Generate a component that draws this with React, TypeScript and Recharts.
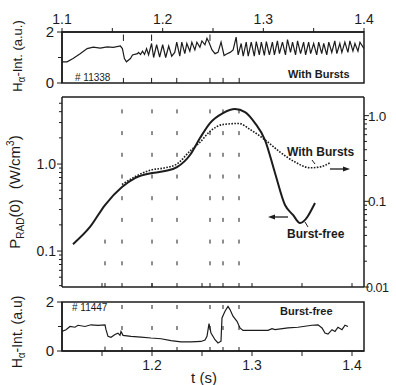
import React from "react";
import { LineChart, Line, XAxis, YAxis, ReferenceLine, ReferenceArea } from "recharts";

const INK = "#1c1c1c";
const FONT = "'Liberation Sans', Arial, sans-serif";

// top panel: H-alpha, shot 11338 (with bursts), upper time scale
const topTimes = [
  1.1, 1.105, 1.111, 1.118, 1.125, 1.131, 1.138, 1.145, 1.151, 1.158, 1.16, 1.162, 1.164, 1.168, 1.17,
  1.175, 1.176, 1.178, 1.18, 1.182, 1.184, 1.186, 1.189, 1.191, 1.194, 1.197, 1.2, 1.203, 1.206, 1.209,
  1.212, 1.214, 1.217, 1.219, 1.222, 1.224, 1.227, 1.229, 1.232, 1.234, 1.237, 1.239, 1.242, 1.244, 1.246,
  1.249, 1.252, 1.255, 1.258, 1.261, 1.264, 1.267, 1.27, 1.273, 1.275, 1.278, 1.28, 1.283, 1.285, 1.288,
  1.291, 1.293, 1.296, 1.298, 1.301, 1.303, 1.306, 1.309, 1.311, 1.314, 1.316, 1.319, 1.322, 1.324, 1.327,
  1.329, 1.332, 1.334, 1.337, 1.34, 1.342, 1.345, 1.347, 1.35, 1.353, 1.355, 1.358, 1.36, 1.363, 1.365,
  1.368, 1.371, 1.373, 1.376, 1.378, 1.381, 1.384, 1.386, 1.389, 1.391, 1.394, 1.396, 1.4,
];
const topHa = [
  0.83, 0.83, 0.96, 1.15, 1.35, 1.41, 1.37, 1.42, 1.4, 1.45, 1.35, 0.96, 0.83, 0.96, 1.1,
  1.15, 1.2, 1.12, 1.25, 1.12, 1.35, 1.1, 1.55, 1.0, 1.5, 1.02, 1.5, 1.0, 1.45, 1.05,
  1.2, 1.6, 1.05, 1.6, 1.15, 1.55, 1.25, 1.6, 1.3, 1.6, 1.4, 1.65, 1.5, 1.75, 1.6,
  1.3, 1.15, 1.2, 1.6, 1.08, 1.15, 1.2, 1.3, 1.8, 1.1, 1.55, 1.05, 1.6, 1.05, 1.6,
  1.05, 1.62, 1.1, 1.6, 1.08, 1.62, 1.1, 1.6, 1.1, 1.65, 1.15, 1.6, 1.1, 1.7, 1.2,
  1.6, 1.1, 1.65, 1.15, 1.6, 1.1, 1.6, 1.15, 1.55, 1.1, 1.6, 1.15, 1.55, 1.1, 1.6,
  1.2, 1.65, 1.15, 1.55, 1.2, 1.6, 1.2, 1.65, 1.25, 1.55, 1.25, 1.6, 1.35,
];

// middle panel: central radiated power
const burstFreeTimes = [
  1.121, 1.138, 1.153, 1.17, 1.183, 1.2, 1.213, 1.225, 1.238, 1.248, 1.258, 1.271, 1.283, 1.293, 1.303,
  1.313, 1.323, 1.333, 1.341, 1.348, 1.363,
];
const burstFreePrad = [
  0.12, 0.189, 0.338, 0.544, 0.69, 0.788, 0.83, 0.92, 1.27, 1.99, 2.96, 3.86, 4.29, 3.96, 2.96,
  1.89, 0.79, 0.338, 0.26, 0.21, 0.356,
];
const burstsTimes = [
  1.17, 1.183, 1.2, 1.213, 1.225, 1.238, 1.248, 1.258, 1.271, 1.287, 1.298, 1.315, 1.328, 1.343, 1.358,
  1.368, 1.378,
];
const burstsPrad = [
  0.157, 0.194, 0.233, 0.246, 0.273, 0.386, 0.49, 0.655, 0.788, 0.81, 0.69, 0.5, 0.376, 0.288, 0.246,
  0.252, 0.281,
];

// bottom panel: H-alpha, shot 11447 (burst-free)
const bottomTimes = [
  1.11, 1.114, 1.118, 1.123, 1.126, 1.133, 1.139, 1.146, 1.153, 1.154, 1.156, 1.159, 1.163, 1.166, 1.168,
  1.169, 1.171, 1.179, 1.189, 1.199, 1.209, 1.219, 1.229, 1.239, 1.249, 1.253, 1.255, 1.257, 1.259, 1.263,
  1.266, 1.269, 1.27, 1.273, 1.276, 1.278, 1.281, 1.285, 1.288, 1.291, 1.3, 1.316, 1.32, 1.323, 1.336,
  1.346, 1.36, 1.366, 1.37, 1.373, 1.376, 1.38, 1.383, 1.386, 1.39, 1.393, 1.396,
];
const bottomHa = [
  0.8, 0.87, 1.0, 0.97, 1.05, 1.0, 1.07, 1.05, 1.07, 0.87, 0.6, 0.56, 0.67, 0.73, 0.64,
  0.8, 0.64, 0.6, 0.57, 0.53, 0.5, 0.42, 0.37, 0.37, 0.39, 0.45, 0.6, 1.12, 0.73, 0.46,
  0.33, 0.4, 1.35, 1.62, 1.82, 1.69, 1.42, 1.21, 0.94, 0.84, 0.84, 0.84, 0.91, 0.87, 0.94,
  0.97, 1.05, 1.07, 0.94, 0.73, 0.69, 0.87, 0.8, 0.97, 0.87, 1.05, 1.0,
];

// dashed time markers
const topMarkers = [1.161, 1.189, 1.214, 1.247, 1.26, 1.276];
const markers = [1.17, 1.2, 1.225, 1.258, 1.271, 1.287];
const earlyMarker = 1.153;

// ticks
const topTimeTicks = [1.1, 1.15, 1.2, 1.25, 1.3, 1.35, 1.4];
const topTimeLabels = [1.1, 1.2, 1.3, 1.4];
const upperTicksMiddle = [1.15, 1.2, 1.25, 1.3, 1.35];
const bottomTimeTicks = [1.15, 1.2, 1.25, 1.3, 1.35, 1.4];
const bottomTimeLabels = [1.2, 1.3, 1.4];
const haTicks = [0, 1, 2];
const haLabels = [0, 2];
const leftLogTicks = [0.04, 0.05, 0.06, 0.07, 0.08, 0.09, 0.1, 0.2, 0.3, 0.4, 0.5, 0.6, 0.7, 0.8, 0.9, 1, 2, 3, 4, 5];
const leftLogLabels = [0.1, 1];
const rightLogTicks = [
  0.01, 0.02, 0.03, 0.04, 0.05, 0.06, 0.07, 0.08, 0.09, 0.1, 0.2, 0.3, 0.4, 0.5, 0.6, 0.7, 0.8, 0.9, 1,
];
const rightLogLabels = [0.01, 0.1, 1];

const zip = (ts: number[], vs: number[]) => ts.map((t, i) => ({ t, v: vs[i] }));
const has = (list: number[], v: number) => list.some((l) => Math.abs(l - v) < 1e-9);
const logText = (v: number) => (v >= 1 ? v.toFixed(1) : String(v));

const topData = zip(topTimes, topHa);
const burstFreeData = zip(burstFreeTimes, burstFreePrad);
const burstsData = zip(burstsTimes, burstsPrad);
const bottomData = zip(bottomTimes, bottomHa);

const txt = { fill: INK, fontFamily: FONT };

const topTimeTick = (p: any) => {
  const v = p.payload.value;
  return (
    <g>
      <line x1={p.x} x2={p.x} y1={p.y} y2={p.y - 4} stroke={INK} />
      {has(topTimeLabels, v) && (
        <text x={p.x} y={p.y - 8} textAnchor="middle" fontSize={14} {...txt}>
          {v.toFixed(1)}
        </text>
      )}
    </g>
  );
};

const upTick = (p: any) => <line x1={p.x} x2={p.x} y1={p.y} y2={p.y - 5} stroke={INK} />;
const inTick = (p: any) => <line x1={p.x} x2={p.x} y1={p.y} y2={p.y - 4} stroke={INK} />;

const bottomTimeTick = (p: any) => {
  const v = p.payload.value;
  return (
    <g>
      <line x1={p.x} x2={p.x} y1={p.y} y2={p.y + 5} stroke={INK} />
      {has(bottomTimeLabels, v) && (
        <text x={p.x} y={p.y + 19} textAnchor="middle" fontSize={14} {...txt}>
          {v.toFixed(1)}
        </text>
      )}
    </g>
  );
};

const haTick = (p: any) => {
  const v = p.payload.value;
  const major = has(haLabels, v);
  return (
    <g>
      <line x1={p.x} x2={p.x - (major ? 5 : 4)} y1={p.y} y2={p.y} stroke={INK} />
      {major && (
        <text x={p.x - 8} y={p.y + 5} textAnchor="end" fontSize={15} {...txt}>
          {v}
        </text>
      )}
    </g>
  );
};

const leftLogTick = (p: any) => {
  const v = p.payload.value;
  const major = has(leftLogLabels, v);
  return (
    <g>
      <line x1={p.x} x2={p.x - (major ? 5 : 3)} y1={p.y} y2={p.y} stroke={INK} />
      {major && (
        <text x={p.x - 6} y={p.y + 5} textAnchor="end" fontSize={14} {...txt}>
          {logText(v)}
        </text>
      )}
    </g>
  );
};

const rightLogTick = (p: any) => {
  const v = p.payload.value;
  const major = has(rightLogLabels, v);
  const small = v < 0.05;
  return (
    <g>
      <line x1={p.x} x2={p.x + (major ? 5 : 3)} y1={p.y} y2={p.y} stroke={INK} />
      {major && (
        <text x={p.x + (small ? 2 : 4)} y={p.y + 5} textAnchor="start" fontSize={small ? 12.5 : 13.5}
          letterSpacing={small ? -0.5 : -0.3} {...txt}>
          {logText(v)}
        </text>
      )}
    </g>
  );
};

const axisLine = { stroke: INK, strokeWidth: 1.5 };

export default function App() {
  return (
    <div style={{ position: "absolute", left: 0, top: 0, width: 396, height: 385, background: "#fff", overflow: "hidden" }}>
      {/* top panel */}
      <div style={{ position: "absolute", left: 0, top: 0 }}>
        <LineChart width={396} height={90} margin={{ top: 12, right: 32, bottom: 7, left: 42 }}>
          <XAxis xAxisId="t" orientation="top" type="number" dataKey="t" domain={[1.1, 1.4]} ticks={topTimeTicks}
            interval={0} height={20} tickSize={0} tickMargin={0} tickLine={false} axisLine={axisLine} tick={topTimeTick} allowDataOverflow />
          <YAxis yAxisId="l" type="number" domain={[0, 2]} ticks={haTicks} interval={0} width={20}
            tickSize={0} tickMargin={0} tickLine={false} axisLine={axisLine} tick={haTick} allowDataOverflow />
          <ReferenceArea xAxisId="t" yAxisId="l" x1={1.1} x2={1.4} y1={0} y2={2} fill="none" stroke={INK} strokeWidth={1.5} />
          {topMarkers.map((m) => (
            <ReferenceLine key={"b" + m} xAxisId="t" yAxisId="l" segment={[{ x: m, y: 0 }, { x: m, y: 0.2 }]} stroke={INK} />
          ))}
          {topMarkers.slice(0, 2).concat(topMarkers.slice(3, 4)).map((m) => (
            <ReferenceLine key={"u" + m} xAxisId="t" yAxisId="l" segment={[{ x: m, y: 1.65 }, { x: m, y: 1.9 }]} stroke={INK} />
          ))}
          <Line xAxisId="t" yAxisId="l" data={topData} dataKey="v" type="linear" dot={false}
            stroke={INK} strokeWidth={1.2} isAnimationActive={false} />
        </LineChart>
      </div>

      {/* middle panel */}
      <div style={{ position: "absolute", left: 0, top: 88 }}>
        <LineChart width={396} height={212} margin={{ top: 0, right: 0, bottom: 7, left: 32 }}>
          <XAxis xAxisId="t" orientation="top" type="number" domain={[1.1, 1.4]} ticks={upperTicksMiddle}
            interval={0} height={9} tickSize={0} tickMargin={0} tickLine={false} axisLine={axisLine} tick={upTick} allowDataOverflow />
          <XAxis xAxisId="b" orientation="bottom" type="number" dataKey="t" domain={[1.11, 1.412]} ticks={bottomTimeTicks}
            interval={0} height={6} tickSize={0} tickMargin={0} tickLine={false} axisLine={axisLine} tick={inTick} allowDataOverflow />
          <YAxis yAxisId="l" orientation="left" scale="log" type="number" domain={[0.0386, 5.9]} ticks={leftLogTicks}
            interval={0} width={30} tickSize={0} tickMargin={0} tickLine={false} axisLine={axisLine} tick={leftLogTick} allowDataOverflow />
          <YAxis yAxisId="r" orientation="right" scale="log" type="number" domain={[0.01, 1.65]} ticks={rightLogTicks}
            interval={0} width={32} tickSize={0} tickMargin={0} tickLine={false} axisLine={axisLine} tick={rightLogTick} allowDataOverflow />
          {markers.map((m) => (
            <ReferenceLine key={m} xAxisId="b" yAxisId="l" x={m} stroke={INK} strokeWidth={1} strokeDasharray="4 17.7" />
          ))}
          <ReferenceLine xAxisId="b" yAxisId="l" segment={[{ x: earlyMarker, y: 0.0386 }, { x: earlyMarker, y: 0.2 }]}
            stroke={INK} strokeWidth={1} strokeDasharray="4 17.7" />
          <Line xAxisId="b" yAxisId="l" data={burstFreeData} dataKey="v" type="monotone" dot={false}
            stroke={INK} strokeWidth={2} isAnimationActive={false} />
          <Line xAxisId="b" yAxisId="r" data={burstsData} dataKey="v" type="monotone" dot={false}
            stroke={INK} strokeWidth={1.6} strokeDasharray="1.6 1.4" isAnimationActive={false} />
        </LineChart>
      </div>

      {/* bottom panel */}
      <div style={{ position: "absolute", left: 0, top: 290 }}>
        <LineChart width={396} height={95} margin={{ top: 12, right: 32, bottom: 0, left: 42 }}>
          <XAxis xAxisId="b" orientation="bottom" type="number" dataKey="t" domain={[1.11, 1.412]} ticks={bottomTimeTicks}
            interval={0} height={34} tickSize={0} tickMargin={0} tickLine={false} axisLine={axisLine} tick={bottomTimeTick} allowDataOverflow />
          <YAxis yAxisId="l" type="number" domain={[0, 2]} ticks={haTicks} interval={0} width={20}
            tickSize={0} tickMargin={0} tickLine={false} axisLine={axisLine} tick={haTick} allowDataOverflow />
          <ReferenceArea xAxisId="b" yAxisId="l" x1={1.11} x2={1.412} y1={0} y2={2} fill="none" stroke={INK} strokeWidth={1.5} />
          {markers.map((m) => (
            <ReferenceLine key={m} xAxisId="b" yAxisId="l" x={m} stroke={INK} strokeWidth={1} strokeDasharray="4 17" />
          ))}
          <ReferenceLine xAxisId="b" yAxisId="l" segment={[{ x: earlyMarker, y: 0 }, { x: earlyMarker, y: 0.18 }]} stroke={INK} />
          <Line xAxisId="b" yAxisId="l" data={bottomData} dataKey="v" type="linear" dot={false}
            stroke={INK} strokeWidth={1.2} isAnimationActive={false} />
        </LineChart>
      </div>

      {/* titles and annotations */}
      <svg width={396} height={385} style={{ position: "absolute", left: 0, top: 0, pointerEvents: "none" }}>
        <text transform="translate(22,56) rotate(-90)" textAnchor="middle" fontSize={13} {...txt}>
          H<tspan dy={3} fontSize={10}>α</tspan>
          <tspan dy={-3}>-Int. (a.u.)</tspan>
        </text>
        <text transform="translate(20,192) rotate(-90)" textAnchor="middle" fontSize={15} {...txt}>
          P<tspan dy={4} fontSize={10}>RAD</tspan>
          <tspan dy={-4}>(0)</tspan>
          <tspan dx={10}>(W/cm</tspan>
          <tspan dy={-6} fontSize={10}>3</tspan>
          <tspan dy={6}>)</tspan>
        </text>
        <text transform="translate(22,332) rotate(-90)" textAnchor="middle" fontSize={14} {...txt}>
          H<tspan dy={3} fontSize={10}>α</tspan>
          <tspan dy={-3}>-Int. (a.u)</tspan>
        </text>
        <text x={204} y={383} textAnchor="middle" fontSize={15} {...txt}>t (s)</text>

        <text x={75} y={81} fontSize={10} {...txt}># 11338</text>
        <text x={288} y={78} fontSize={11} fontWeight={600} {...txt}>With Bursts</text>
        <text x={72} y={311} fontSize={10} {...txt}># 11447</text>
        <text x={280} y={315} fontSize={11} fontWeight={600} {...txt}>Burst-free</text>

        <text x={287} y={156} fontSize={12} fontWeight={600} {...txt}>With Bursts</text>
        <text x={287} y={238} fontSize={12} fontWeight={600} {...txt}>Burst-free</text>
        <line x1={312} y1={160} x2={315} y2={164} stroke={INK} />
        <line x1={305} y1={222} x2={308} y2={227} stroke={INK} />
        <line x1={330} y1={169} x2={346} y2={169} stroke={INK} strokeWidth={1.3} />
        <path d="M350 169 L343 166.5 L343 171.5 Z" fill={INK} />
        <line x1={288} y1={217} x2={272} y2={217} stroke={INK} strokeWidth={1.3} />
        <path d="M268 217 L275 214.5 L275 219.5 Z" fill={INK} />
      </svg>
    </div>
  );
}
